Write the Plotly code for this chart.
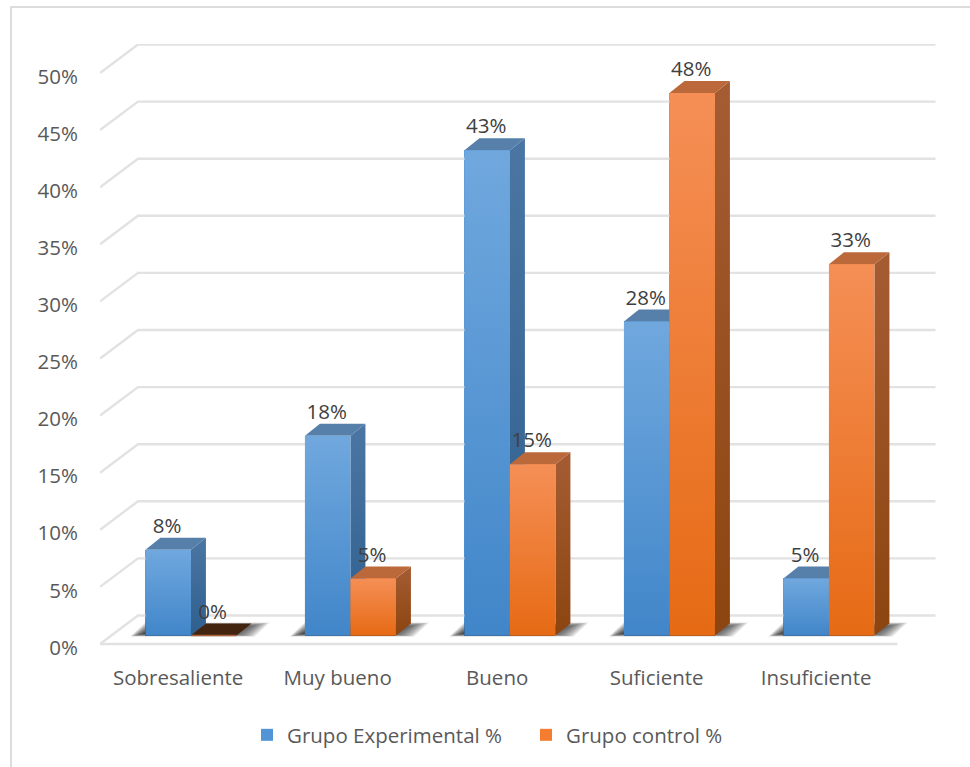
import plotly.graph_objects as go

categories = ["Sobresaliente", "Muy bueno", "Bueno", "Suficiente", "Insuficiente"]
experimental = [7.5, 17.5, 42.5, 27.5, 5]
control = [0, 5, 15, 47.5, 32.5]
experimental_labels = ["8%", "18%", "43%", "28%", "5%"]
control_labels = ["0%", "5%", "15%", "48%", "33%"]
y_ticks = [0, 5, 10, 15, 20, 25, 30, 35, 40, 45, 50]

W, H = 970, 767
L, R, T, B = 100, 936, 44, 650
ZERO_PX = 644        # pixel row of the front 0% line
PX = 159.5           # pixels per category
PY = 11.42           # pixels per percent
WALL_X, WALL_Y = 38 / PX, 28.5 / PY
BAR_W = 45.5 / PX
BAR_SHIFT = 0.07
BASE = 8.5 / PY
DEPTH_X, DEPTH_Y = 15 / PX, 12 / PY
FONT = "Open Sans"
FS = 20.5
TXT = "#595959"
GRID = "#e2e2e2"

fig = go.Figure()


def poly(xs, ys, color=None, grad=None):
    kw = dict(fillgradient=dict(type="vertical", colorscale=[[0, grad[0]], [1, grad[1]]])) if grad else dict(fillcolor=color)
    fig.add_trace(go.Scatter(x=xs + xs[:1], y=ys + ys[:1], mode="lines", line=dict(width=0), fill="toself",
                             hoverinfo="skip", showlegend=False, **kw))


# walls: grid lines
for v in y_ticks:
    fig.add_trace(go.Scatter(x=[0, WALL_X, 5 + WALL_X], y=[v, v + WALL_Y, v + WALL_Y], mode="lines",
                             line=dict(color=GRID, width=2.4), hoverinfo="skip", showlegend=False))
fig.add_trace(go.Scatter(x=[0, 5], y=[0, 0], mode="lines", line=dict(color=GRID, width=2.4),
                         hoverinfo="skip", showlegend=False))

# real bars (front faces, also give the legend)
for name, vals, shift, col, leg in [("Grupo Experimental %", experimental, -BAR_W / 2, "#5295d6", "legend"),
                                    ("Grupo control %", control, BAR_W / 2, "#f47d2f", "legend2")]:
    fig.add_trace(go.Bar(name=name, x=[i + 0.5 + BAR_SHIFT + shift for i in range(5)], y=vals, base=BASE,
                         width=BAR_W, marker=dict(color=col, line=dict(width=0)), hoverinfo="skip", legend=leg))

# floor shadows
for i in range(5):
    cx = i + 0.5 + BAR_SHIFT
    for k in range(14):
        a = 0.13
        x0 = cx - BAR_W - 15 / PX + k * 1.1 / PX
        x1 = cx + BAR_W + 33 / PX - k * 2.4 / PX
        y0 = BASE - 1 / PY + k * 0.25 / PY
        y1 = BASE + 13 / PY - k * 0.45 / PY
        poly([x0, x1 - DEPTH_X, x1, x0 + DEPTH_X], [y0, y0, y1, y1], color=f"rgba(35,35,35,{a})")

# 3D boxes
faces = [
    (experimental, -BAR_W / 2, "#567faa", ("#2f5f8e", "#4b76a3"), ("#4186c9", "#70a8de")),
    (control, BAR_W / 2, "#bb683a", ("#8c4510", "#a55c33"), ("#e66a14", "#f58f56")),
]
for vals, shift, top_c, side_g, front_g in faces:
    for i, v in enumerate(vals):
        x0 = i + 0.5 + BAR_SHIFT + shift - BAR_W / 2
        x1 = x0 + BAR_W
        y0, y1 = BASE, BASE + v
        if v > 0:
            poly([x1, x1 + DEPTH_X, x1 + DEPTH_X, x1], [y0, y0 + DEPTH_Y, y1 + DEPTH_Y, y1], grad=side_g)
            poly([x0, x0 + DEPTH_X, x1 + DEPTH_X, x1], [y1, y1 + DEPTH_Y, y1 + DEPTH_Y, y1], color=top_c)
            poly([x0, x1, x1, x0], [y0, y0, y1, y1], grad=front_g)
        else:
            poly([x0, x0 + DEPTH_X, x1 + DEPTH_X, x1], [y1, y1 + DEPTH_Y, y1 + DEPTH_Y, y1], color="#42240f")
            fig.add_trace(go.Scatter(x=[x0, x1], y=[y1, y1], mode="lines", line=dict(color="#a8633c", width=1.5),
                                     hoverinfo="skip", showlegend=False))

# data labels
for vals, labels, shift in [(experimental, experimental_labels, -BAR_W / 2), (control, control_labels, BAR_W / 2)]:
    fig.add_trace(go.Scatter(x=[i + 0.5 + BAR_SHIFT + shift - 1 / PX for i in range(5)],
                             y=[v + BASE + 22 / PY for v in vals], text=labels, mode="text",
                             textposition="middle center", textfont=dict(family=FONT, size=FS, color="#404040"),
                             hoverinfo="skip", showlegend=False))

legend_common = dict(orientation="h", yref="paper", y=-(735 - B) / (B - T), yanchor="middle", xanchor="left", xref="paper",
                     bgcolor="rgba(0,0,0,0)", font=dict(family=FONT, size=FS, color=TXT))

fy = (B - 7) / (B - T)
fig.update_layout(
    width=W, height=H, autosize=False, paper_bgcolor="white", plot_bgcolor="rgba(0,0,0,0)",
    margin=dict(l=L, r=W - R, t=T, b=H - B, pad=0),
    barmode="overlay", bargap=0,
    font=dict(family=FONT, size=FS, color=TXT),
    xaxis=dict(range=[0, (R - L) / PX], tickvals=[i + 0.5 - 0.01 for i in range(5)], ticktext=categories,
               showgrid=False, zeroline=False, showline=False, ticks="", ticklabelstandoff=13, automargin=False,
               fixedrange=True),
    yaxis=dict(range=[(ZERO_PX - B) / PY, (ZERO_PX - T) / PY], tickvals=[v - 0.3 for v in y_ticks],
               ticktext=[f"{v}%" for v in y_ticks],
               showgrid=False, zeroline=False, showline=False, ticks="", ticklabelstandoff=21, automargin=False,
               fixedrange=True),
    legend=dict(x=(247 - L) / (R - L), **legend_common),
    legend2=dict(x=(526 - L) / (R - L), **legend_common),
    shapes=[dict(type="path", xref="paper", yref="paper",
                 path=f"M{(11 - L) / (R - L)},{-(H - B) / (B - T)} L{(11 - L) / (R - L)},{fy} L{(970 - L) / (R - L)},{fy}",
                 line=dict(color="#dcdcdc", width=2))],
)

fig.write_html("out.html", post_script="document.body.style.margin='0';", config={"displayModeBar": False})
